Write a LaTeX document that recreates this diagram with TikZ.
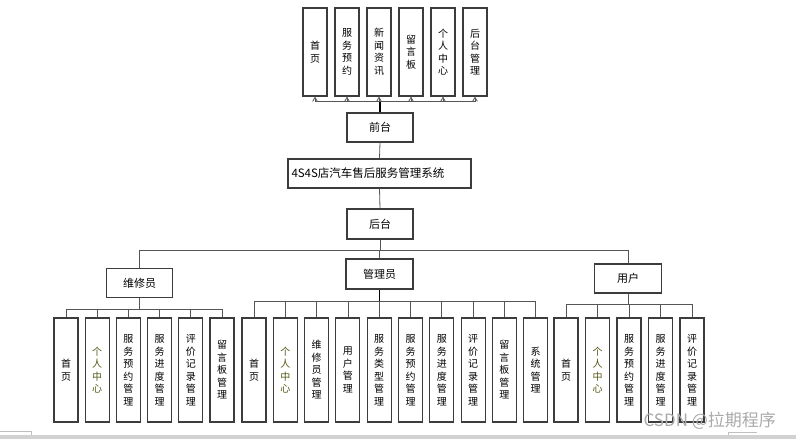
\documentclass[tikz,border=0pt]{standalone}
\usepackage{fontspec}
\usepackage{tikz}
\usetikzlibrary{arrows}
\newfontfamily\cjk{Noto Sans CJK SC}
\definecolor{K}{RGB}{60, 60, 60}
\definecolor{L}{RGB}{85, 85, 85}
\definecolor{O}{RGB}{85, 85, 20}
\definecolor{T}{RGB}{0, 0, 0}
\definecolor{W}{RGB}{170, 170, 170}

\tikzset{
  box/.style={draw=K, line width=1.1pt, fill=white, inner sep=0pt,
    font=\cjk\fontsize{10}{12.5}\selectfont},
  midbox/.style={box, minimum width=66pt, minimum height=29pt,
    font=\cjk\fontsize{11}{13}\selectfont},
  leafbox/.style={box, minimum width=24pt, minimum height=104pt, align=center},
  topbox/.style={box, minimum width=24pt, minimum height=88pt, align=center},
  link/.style={draw=L, line width=0.8pt},
}

\begin{document}
\begin{tikzpicture}[x=1pt, y=-1pt]
  \useasboundingbox (0,0) rectangle (796,439);

  % front side
  \foreach \t [count=\i from 0] in {首\\页, 服\\务\\预\\约, 新\\闻\\资\\讯, 留\\言\\板, 个\\人\\中\\心, 后\\台\\管\\理}
    \node[topbox] (qt\i) at (315+32*\i, 52) {\t};
  \node[midbox] (qt) at (380, 127.5) {前台};
  \node[midbox, minimum width=183pt, text width=176pt, align=left, font=\cjk\fontsize{11.5}{13}\selectfont] (sys) at (379.5, 173.5) {4S4S店汽车售后服务管理系统};
  \node[midbox, minimum height=30pt] (ht) at (380, 224) {后台};

  \coordinate (qtbus) at (380, 101);
  \draw[link, line width=1.4pt, draw=black] (qt.north) -- (qtbus);
  \foreach \i in {0,...,5}
    \draw[link, ->, >=angle 60] (qtbus) -| (qt\i.south);
  \draw[link] (qt.south) -- (sys.north);
  \draw[link] (sys.south) -- (ht.north);

  % back side
  \node[midbox] (wxy) at (139.5, 283) {维修员};
  \node[midbox, minimum width=67pt, minimum height=30pt] (gly) at (379.5, 274) {管理员};
  \node[midbox, minimum width=67pt] (yh) at (628, 278.5) {用户};
  \coordinate (htbus) at (380, 250);
  \draw[link] (ht.south) -- (htbus);
  \draw[link] (htbus) -| (wxy.north);
  \draw[link] (htbus) -| (gly.north);
  \draw[link] (htbus) -| (yh.north);

  % 维修员
  \coordinate (wxbus) at (139.5, 309);
  \draw[link] (wxy.south) -- (wxbus);
  \foreach \col/\t [count=\i from 0] in {T/首\\页, O/个\\人\\中\\心, T/服\\务\\预\\约\\管\\理, T/服\\务\\进\\度\\管\\理, T/评\\价\\记\\录\\管\\理, T/留\\言\\板\\管\\理}
  {
    \node[leafbox, text=\col] (wx\i) at (66+31.2*\i, 370) {\t};
    \draw[link] (wxbus) -| (wx\i.north);
  }

  % 管理员
  \coordinate (glbus) at (379.5, 301);
  \draw[link, line width=1.2pt, draw=black] (gly.south) -- (glbus);
  \foreach \col/\t [count=\i from 0] in {T/首\\页, O/个\\人\\中\\心, T/维\\修\\员\\管\\理, T/用\\户\\管\\理, T/服\\务\\类\\型\\管\\理, T/服\\务\\预\\约\\管\\理, T/服\\务\\进\\度\\管\\理, T/评\\价\\记\\录\\管\\理, T/留\\言\\板\\管\\理, T/系\\统\\管\\理}
  {
    \node[leafbox, text=\col] (gl\i) at (254+31.3*\i, 370) {\t};
    \draw[link] (glbus) -| (gl\i.north);
  }

  % 用户
  \coordinate (yhbus) at (628, 304);
  \draw[link] (yh.south) -- (yhbus);
  \foreach \col/\t [count=\i from 0] in {T/首\\页, O/个\\人\\中\\心, T/服\\务\\预\\约\\管\\理, T/服\\务\\进\\度\\管\\理, T/评\\价\\记\\录\\管\\理}
  {
    \node[leafbox, text=\col] (yh\i) at (566+31.5*\i, 370) {\t};
    \draw[link] (yhbus) -| (yh\i.north);
  }

  % page edge
  \fill[gray!35] (0,435) rectangle (796,439);
  \draw[gray!50, line width=0.6pt] (0,431) -- (31,431) -- (31,435);
  \draw[gray!50, line width=0.6pt] (728,435) -- (728,432) -- (757,432);
  \node[anchor=west, text=W, font=\cjk\fontsize{17}{17}\selectfont] (wm) at (640, 421) {CSDN @拉期程序};
\end{tikzpicture}
\end{document}
